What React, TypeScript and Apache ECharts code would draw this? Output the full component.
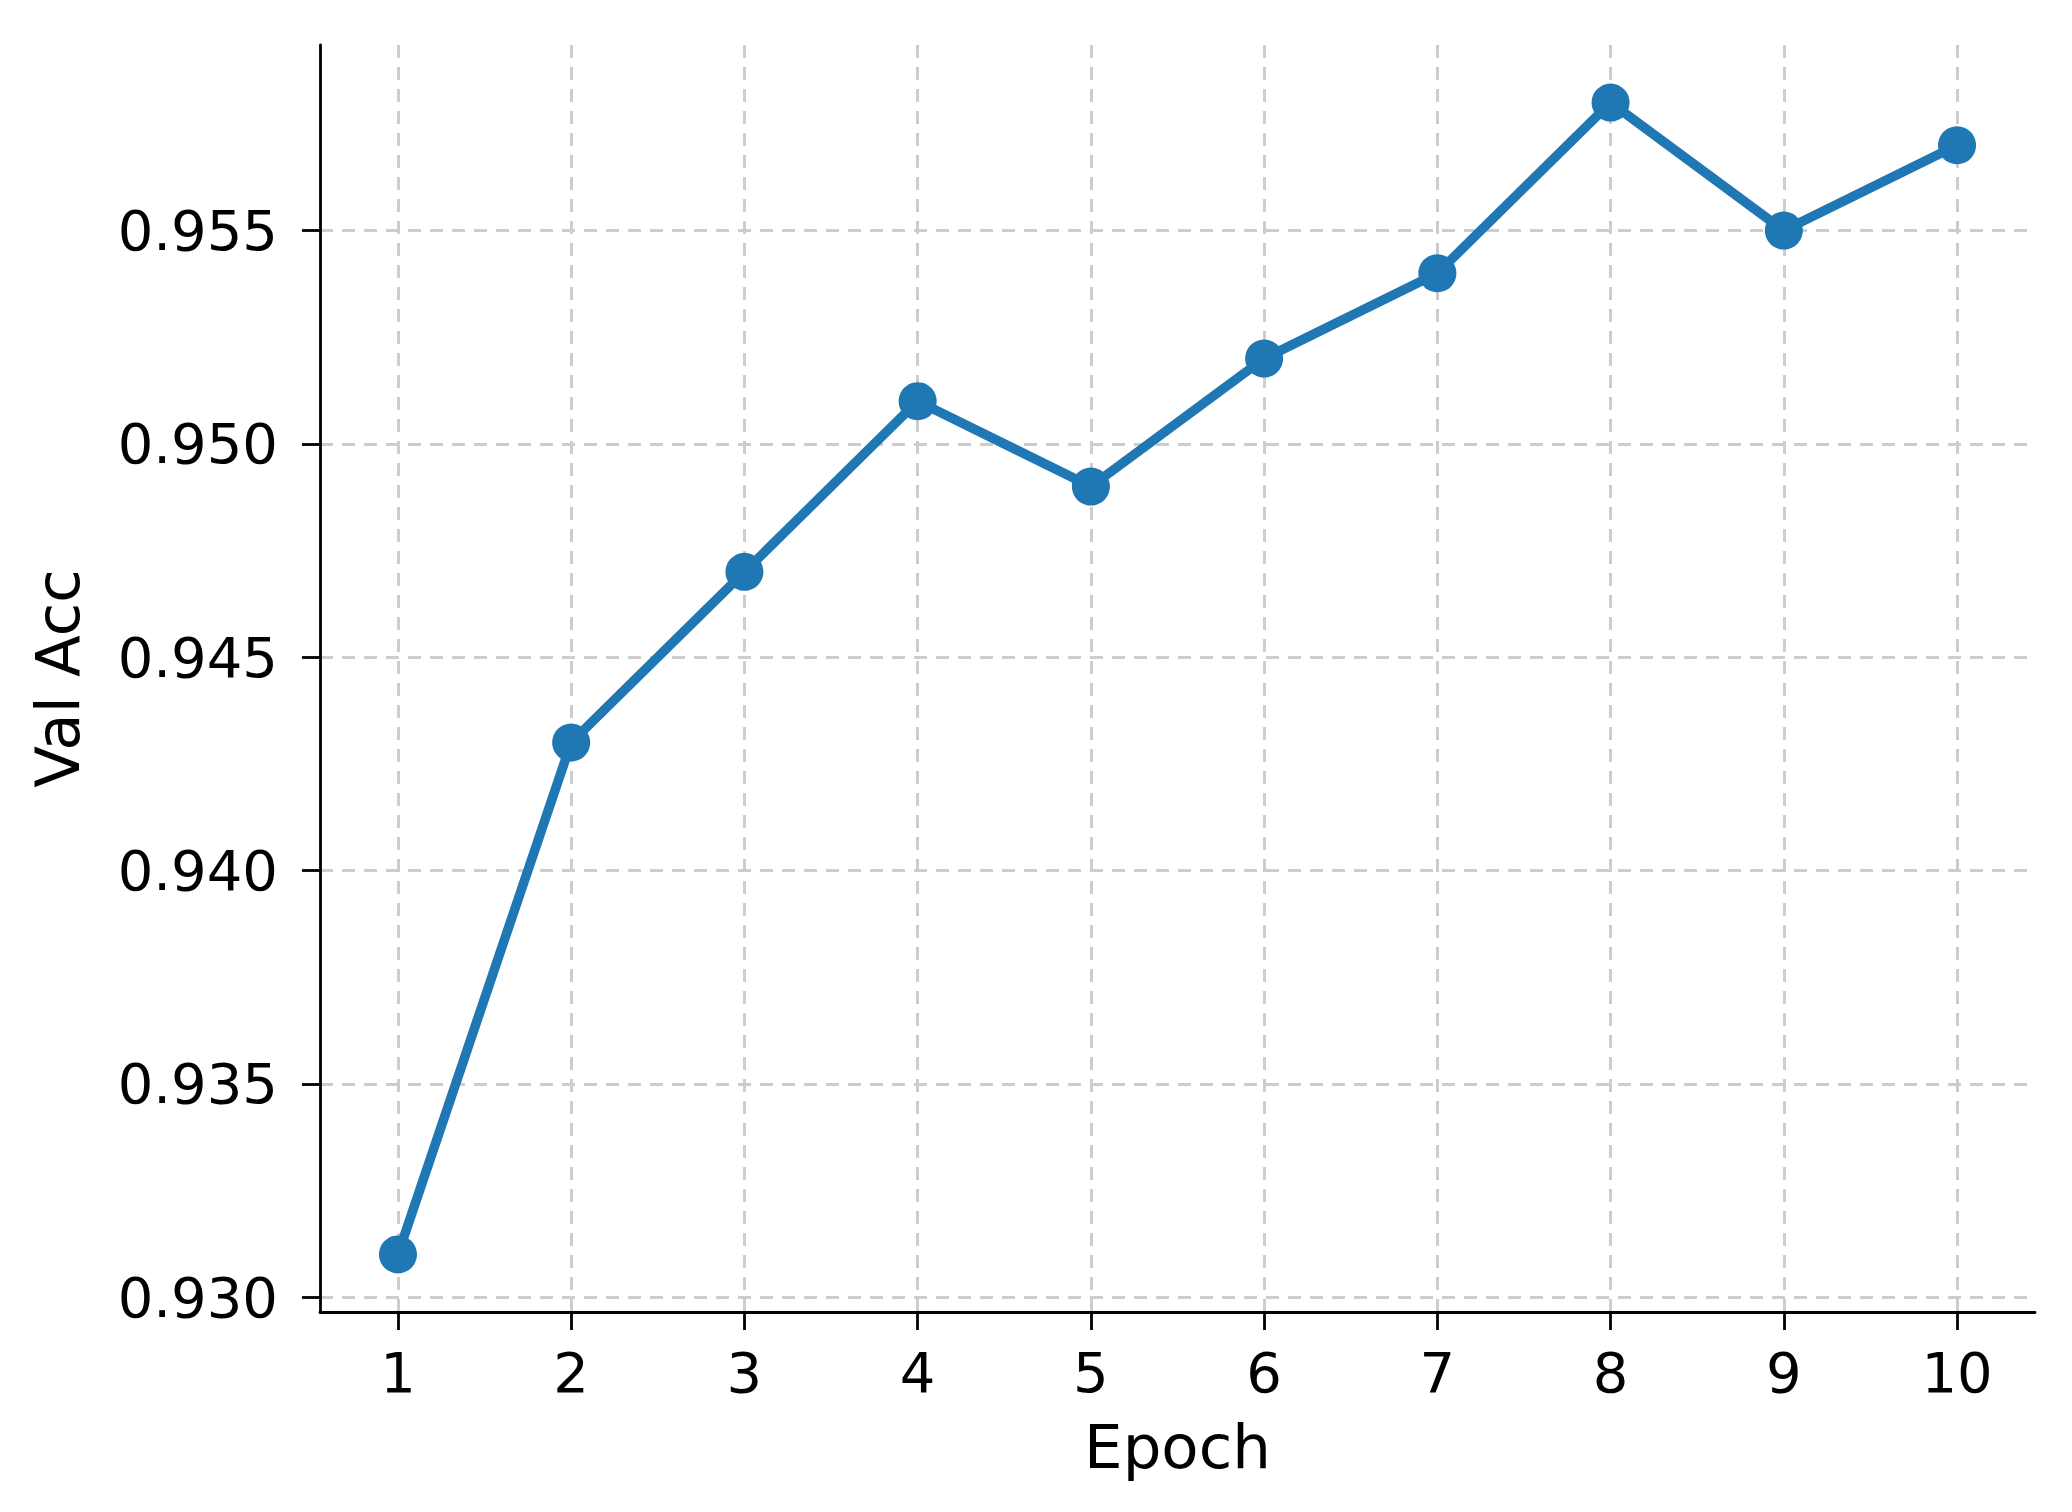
import React, { useEffect, useRef } from "react";
import * as echarts from "echarts";

const epochs = [1, 2, 3, 4, 5, 6, 7, 8, 9, 10];
const valAcc = [0.931, 0.943, 0.947, 0.951, 0.949, 0.952, 0.954, 0.958, 0.955, 0.957];
const yTicks = [0.93, 0.935, 0.94, 0.945, 0.95, 0.955];

export default function App() {
  const ref = useRef<HTMLDivElement>(null);
  useEffect(() => {
    document.body.style.margin = "0";
    const chart = echarts.init(ref.current!, null, { renderer: "svg" });
    const font = "DejaVu Sans";
    const gridLine = { show: true, lineStyle: { color: "#cdcdcd", width: 3, type: [13, 9] as any } };
    chart.setOption({
      animation: false,
      backgroundColor: "#ffffff",
      textStyle: { fontFamily: font },
      grid: { left: 320, right: 37, top: 45, bottom: 200, containLabel: false },
      xAxis: {
        type: "value",
        min: 0.55,
        max: 10.45,
        name: "Epoch",
        nameLocation: "middle",
        nameGap: 104,
        nameTextStyle: { fontSize: 61, color: "#000", fontFamily: font },
        axisLine: { show: true, onZero: false, lineStyle: { color: "#000", width: 2.8 } },
        axisTick: { show: true, length: 18, lineStyle: { color: "#000", width: 2.8 }, customValues: epochs },
        axisLabel: { fontSize: 56, color: "#000", margin: 32, fontFamily: font, customValues: epochs },
        splitLine: gridLine,
      },
      yAxis: {
        type: "value",
        min: 0.92965,
        max: 0.95935,
        name: "Val Acc",
        nameLocation: "middle",
        nameGap: 232,
        nameRotate: 90,
        nameTextStyle: { fontSize: 61, color: "#000", fontFamily: font },
        axisLine: { show: true, onZero: false, lineStyle: { color: "#000", width: 2.8 } },
        axisTick: { show: true, length: 18, lineStyle: { color: "#000", width: 2.8 }, customValues: yTicks },
        axisLabel: {
          fontSize: 56,
          color: "#000",
          margin: 42,
          fontFamily: font,
          customValues: yTicks,
          formatter: (v: number) => v.toFixed(3),
        },
        splitLine: gridLine,
      },
      series: [
        {
          type: "line",
          data: epochs.map((e, i) => [e, valAcc[i]]),
          symbol: "circle",
          symbolSize: 38,
          lineStyle: { color: "#1f77b4", width: 9.5 },
          itemStyle: { color: "#1f77b4" },
        },
      ],
    });
    return () => chart.dispose();
  }, []);
  return <div ref={ref} style={{ position: "fixed", left: 0, top: 0, width: 2072, height: 1512 }} />;
}
